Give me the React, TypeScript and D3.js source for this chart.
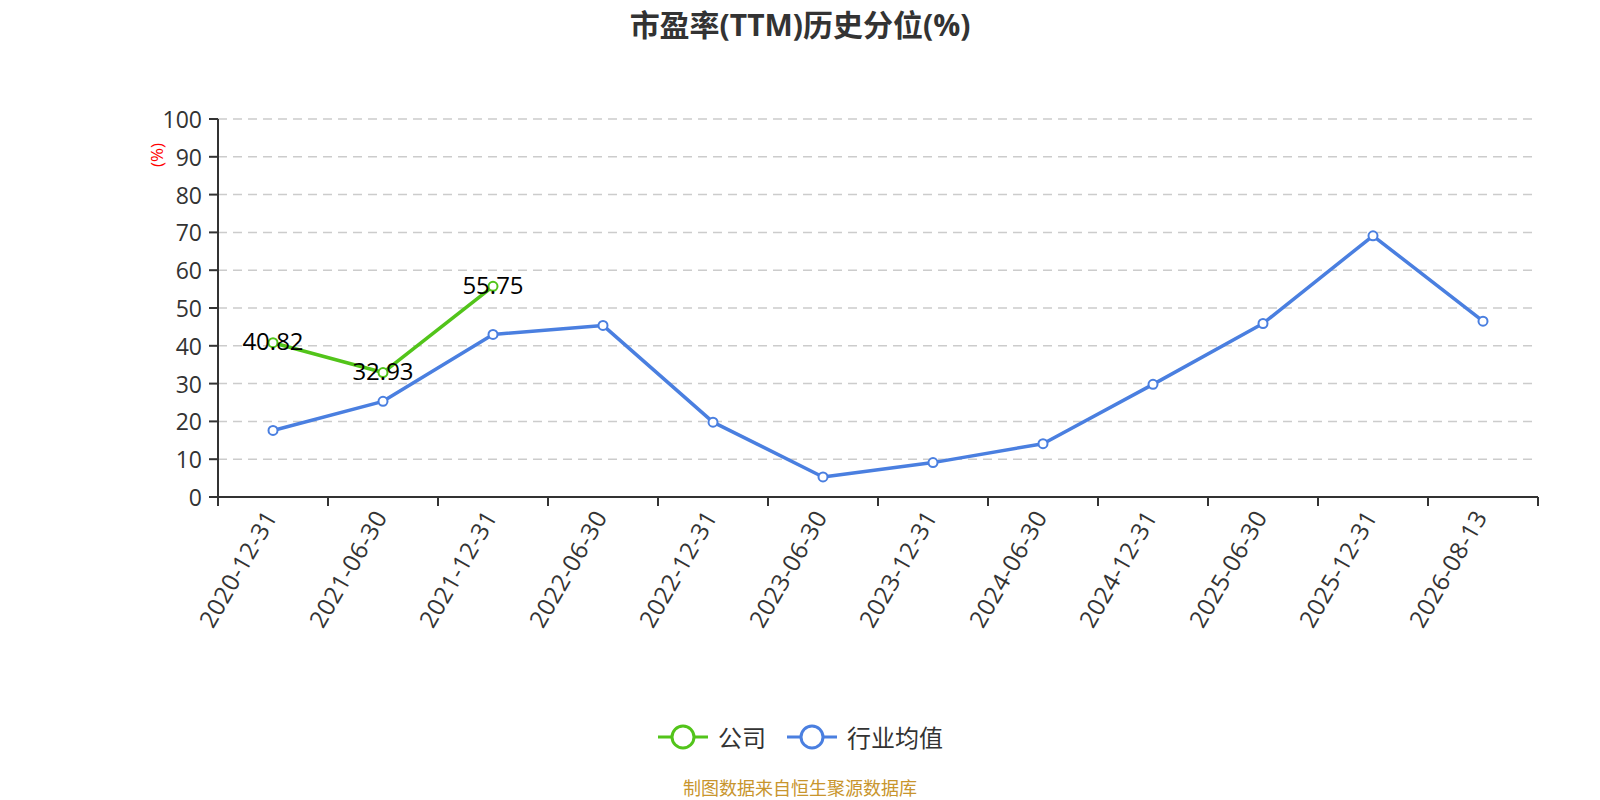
import { useRef, useEffect } from "react";
import * as d3 from "d3";

const categories = [
  "2020-12-31", "2021-06-30", "2021-12-31", "2022-06-30", "2022-12-31", "2023-06-30",
  "2023-12-31", "2024-06-30", "2024-12-31", "2025-06-30", "2025-12-31", "2026-08-13",
];
const companyValues = [40.82, 32.93, 55.75];
const industryValues = [17.6, 25.3, 43.0, 45.4, 19.8, 5.3, 9.1, 14.1, 29.8, 45.9, 69.1, 46.5];
const yTicks = [0, 10, 20, 30, 40, 50, 60, 70, 80, 90, 100];

const GREEN = "#52c41a";
const BLUE = "#4a7fe0";
const FONT = "'Open Sans', 'Noto Sans CJK SC', sans-serif";

export default function App() {
  const svgRef = useRef<SVGSVGElement>(null);
  const width = 1600;
  const height = 800;
  const margin = { top: 119, right: 62, bottom: 303, left: 218 };
  const innerW = width - margin.left - margin.right;
  const innerH = height - margin.top - margin.bottom;

  useEffect(() => {
    document.body.style.margin = "0";
    if (!svgRef.current) return;
    const svg = d3.select(svgRef.current);
    svg.selectAll("*").remove();
    svg.attr("width", width).attr("height", height).style("font-family", FONT);

    const g = svg.append("g").attr("transform", `translate(${margin.left},${margin.top})`);

    const x = d3.scaleBand<string>().domain(categories).range([0, innerW]);
    const y = d3.scaleLinear().domain([0, 100]).range([innerH, 0]);
    const cx = (c: string) => (x(c) as number) + x.bandwidth() / 2;

    // Grid lines
    g.append("g")
      .selectAll("line")
      .data(yTicks.filter(t => t > 0))
      .join("line")
      .attr("x1", 0)
      .attr("x2", innerW)
      .attr("y1", d => y(d))
      .attr("y2", d => y(d))
      .attr("stroke", "#cccccc")
      .attr("stroke-width", 1.5)
      .attr("stroke-dasharray", "9,6");

    // X axis
    const xAxis = g.append("g")
      .attr("transform", `translate(0,${innerH})`);
    xAxis.append("line")
      .attr("x1", 0).attr("x2", innerW)
      .attr("stroke", "#333").attr("stroke-width", 2);
    xAxis.selectAll("line.tick")
      .data(d3.range(categories.length + 1))
      .join("line")
      .attr("class", "tick")
      .attr("x1", i => i * x.bandwidth())
      .attr("x2", i => i * x.bandwidth())
      .attr("y1", 0).attr("y2", 9)
      .attr("stroke", "#333").attr("stroke-width", 2);
    xAxis.selectAll("text")
      .data(categories)
      .join("text")
      .attr("transform", d => `translate(${cx(d) - 3},${15}) rotate(-60)`)
      .attr("text-anchor", "end")
      .attr("dominant-baseline", "central")
      .attr("fill", "#333")
      .attr("font-size", "24px")
      .attr("letter-spacing", "0.5px")
      .text(d => d);

    // Y axis
    const yAxis = g.append("g");
    yAxis.append("line")
      .attr("y1", 0).attr("y2", innerH)
      .attr("stroke", "#333").attr("stroke-width", 2);
    yAxis.selectAll("line.tick")
      .data(yTicks)
      .join("line")
      .attr("class", "tick")
      .attr("x1", -9).attr("x2", 0)
      .attr("y1", d => y(d)).attr("y2", d => y(d))
      .attr("stroke", "#333").attr("stroke-width", 2);
    yAxis.selectAll("text")
      .data(yTicks)
      .join("text")
      .attr("x", -16)
      .attr("y", d => y(d))
      .attr("text-anchor", "end")
      .attr("dominant-baseline", "central")
      .attr("fill", "#333")
      .attr("font-size", "23px")
      .text(d => d);

    g.append("text")
      .attr("transform", `translate(${156 - margin.left},${155 - margin.top}) rotate(-90)`)
      .attr("text-anchor", "middle")
      .attr("dominant-baseline", "central")
      .attr("fill", "red")
      .attr("font-size", "17px")
      .text("(%)");

    // Lines
    const drawSeries = (values: number[], color: string, labels: boolean) => {
      const pts = values.map((v, i) => ({ c: categories[i], v }));
      const line = d3.line<{ c: string; v: number }>()
        .x(d => cx(d.c))
        .y(d => y(d.v));
      g.append("path")
        .datum(pts)
        .attr("fill", "none")
        .attr("stroke", color)
        .attr("stroke-width", 3.5)
        .attr("stroke-linejoin", "round")
        .attr("d", line);
      g.append("g")
        .selectAll("circle")
        .data(pts)
        .join("circle")
        .attr("cx", d => cx(d.c))
        .attr("cy", d => y(d.v))
        .attr("r", 4.5)
        .attr("fill", "#fff")
        .attr("stroke", color)
        .attr("stroke-width", 2);
      if (labels) {
        g.append("g")
          .selectAll("text")
          .data(pts)
          .join("text")
          .attr("x", d => cx(d.c))
          .attr("y", d => y(d.v) - 2)
          .attr("text-anchor", "middle")
          .attr("dominant-baseline", "central")
          .attr("fill", "#000")
          .attr("font-size", "24px")
          .text(d => d.v.toFixed(2));
      }
    };
    drawSeries(industryValues, BLUE, false);
    drawSeries(companyValues, GREEN, true);

    // Title
    svg.append("text")
      .attr("x", 800)
      .attr("y", 24)
      .attr("text-anchor", "middle")
      .attr("dominant-baseline", "central")
      .attr("fill", "#333")
      .attr("font-size", "30px")
      .attr("font-weight", "bold")
      .text("市盈率(TTM)历史分位(%)");

    // Legend
    const legend = [
      { name: "公司", color: GREEN, x: 658 },
      { name: "行业均值", color: BLUE, x: 787 },
    ];
    const lg = svg.append("g");
    legend.forEach(item => {
      lg.append("line")
        .attr("x1", item.x).attr("x2", item.x + 50)
        .attr("y1", 737).attr("y2", 737)
        .attr("stroke", item.color).attr("stroke-width", 3);
      lg.append("circle")
        .attr("cx", item.x + 25).attr("cy", 737).attr("r", 11)
        .attr("fill", "#fff").attr("stroke", item.color).attr("stroke-width", 3);
      lg.append("text")
        .attr("x", item.x + 60).attr("y", 737)
        .attr("dominant-baseline", "central")
        .attr("fill", "#333")
        .attr("font-size", "24px")
        .text(item.name);
    });

    // Footer
    svg.append("text")
      .attr("x", 800)
      .attr("y", 788)
      .attr("text-anchor", "middle")
      .attr("dominant-baseline", "central")
      .attr("fill", "#c8952d")
      .attr("font-size", "18px")
      .text("制图数据来自恒生聚源数据库");
  }, []);

  return <svg ref={svgRef} style={{ display: "block" }} />;
}
